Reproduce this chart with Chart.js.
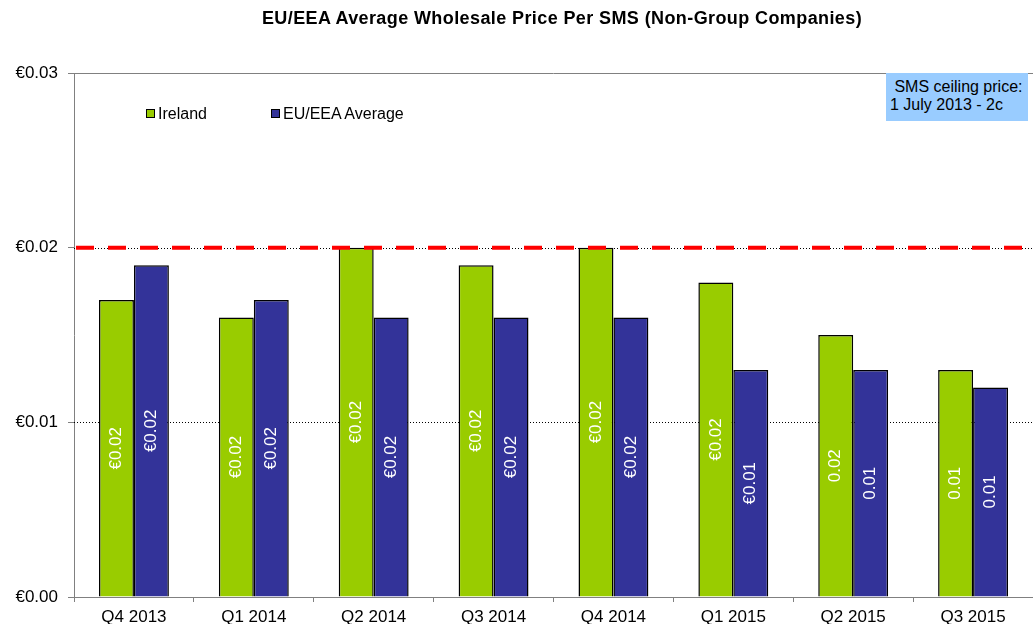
<!DOCTYPE html>
<html>
<head>
<meta charset="utf-8">
<script src="https://cdn.jsdelivr.net/npm/chart.js@4.4.1/dist/chart.umd.min.js"></script>
<style>
  body { margin: 0; background: #fff; font-family: "Liberation Sans", Arial, sans-serif; }
  #wrap { position: relative; width: 1033px; height: 624px; }
  #title { position: absolute; left: 0; top: 8px; width: 1124px; text-align: center;
           font-weight: bold; font-size: 18px; letter-spacing: 0.4px; color: #000; }
  .legend { position: absolute; top: 105px; font-size: 16px; color: #000; }
  .legend span.box { display: inline-block; width: 7px; height: 7px; border: 1px solid #000;
                     margin-right: 3px; vertical-align: 1px; }
  #note { position: absolute; left: 886px; top: 73px; width: 142px; height: 48px;
          background: #99ccff; font-size: 16px; line-height: 18px; color: #000;
          box-sizing: border-box; padding: 5px 0 0 4px; white-space: nowrap; }
</style>
</head>
<body>
<div id="wrap">
  <canvas id="smsChart" width="1033" height="624"></canvas>
  <div id="title">EU/EEA Average Wholesale Price Per SMS (Non-Group Companies)</div>
  <div class="legend" style="left:146px"><span class="box" style="background:#99cc00"></span>Ireland</div>
  <div class="legend" style="left:271px"><span class="box" style="background:#333399"></span>EU/EEA Average</div>
  <div id="note">&nbsp;SMS ceiling price:<br>1 July 2013 - 2c</div>
</div>
<script>
// Quarters and wholesale price per SMS (EUR)
const quarters = ['Q4 2013', 'Q1 2014', 'Q2 2014', 'Q3 2014', 'Q4 2014', 'Q1 2015', 'Q2 2015', 'Q3 2015'];
const irelandPrice = [0.017, 0.016, 0.020, 0.019, 0.020, 0.018, 0.015, 0.013];
const euAveragePrice = [0.019, 0.017, 0.016, 0.016, 0.016, 0.013, 0.013, 0.012];
// Labels as printed inside the bars
const irelandLabels = ['€0.02', '€0.02', '€0.02', '€0.02', '€0.02', '€0.02', '0.02', '0.01'];
const euAverageLabels = ['€0.02', '€0.02', '€0.02', '€0.02', '€0.02', '€0.01', '0.01', '0.01'];
const ceilingPrice = 0.02;
const yTicks = [0, 0.01, 0.02, 0.03];

const FONT = '"Liberation Sans", Arial, sans-serif';

// Horizontal grid lines, ceiling line and in-bar labels
const gridPlugin = {
    id: 'gridLines',
    beforeDatasetsDraw(chart) {
        const ctx = chart.ctx;
        const area = chart.chartArea;
        const y = chart.scales.y;
        ctx.save();
        yTicks.forEach(v => {
            if (v === 0) return;
            const py = Math.round(y.getPixelForValue(v)) + 0.5;
            ctx.beginPath();
            if (v === 0.03) {
                ctx.strokeStyle = '#808080';
                ctx.setLineDash([]);
            } else {
                ctx.strokeStyle = '#000000';
                ctx.setLineDash([1, 2]);
            }
            ctx.lineWidth = 1;
            ctx.moveTo(area.left, py);
            ctx.lineTo(area.right, py);
            ctx.stroke();
        });
        ctx.restore();
    },
    afterDatasetsDraw(chart) {
        const ctx = chart.ctx;
        const area = chart.chartArea;
        const py = chart.scales.y.getPixelForValue(ceilingPrice);
        ctx.save();
        ctx.strokeStyle = '#ff0000';
        ctx.lineWidth = 4;
        ctx.setLineDash([18, 14]);
        ctx.beginPath();
        ctx.moveTo(area.left + 2, py);
        ctx.lineTo(area.right, py);
        ctx.stroke();

        // value labels inside bars, rotated
        ctx.setLineDash([]);
        ctx.fillStyle = '#ffffff';
        ctx.font = '17px ' + FONT;
        ctx.textAlign = 'center';
        ctx.textBaseline = 'middle';
        const allLabels = [irelandLabels, euAverageLabels];
        chart.data.datasets.forEach((ds, di) => {
            chart.getDatasetMeta(di).data.forEach((bar, i) => {
                const cy = (bar.y + bar.base) / 2;
                ctx.save();
                ctx.translate(bar.x, cy);
                ctx.rotate(-Math.PI / 2);
                ctx.fillText(allLabels[di][i], 0, 0);
                ctx.restore();
            });
        });
        ctx.restore();
    }
};

const smsChart = new Chart(document.getElementById('smsChart'), {
    type: 'bar',
    data: {
        labels: quarters,
        datasets: [
            {
                label: 'Ireland',
                data: irelandPrice,
                backgroundColor: '#99cc00',
                borderColor: '#000000',
                borderWidth: 1.5
            },
            {
                label: 'EU/EEA Average',
                data: euAveragePrice,
                backgroundColor: '#333399',
                borderColor: '#000000',
                borderWidth: 1.5
            }
        ]
    },
    options: {
        responsive: false,
        animation: false,
        events: [],
        layout: { padding: { top: 73, right: 0, left: 0, bottom: 0 } },
        datasets: {
            bar: { categoryPercentage: 0.583, barPercentage: 1.0 }
        },
        plugins: {
            legend: { display: false },
            title: { display: false },
            tooltip: { enabled: false }
        },
        scales: {
            x: {
                grid: {
                    offset: true,
                    drawOnChartArea: false,
                    drawTicks: true,
                    tickLength: 5,
                    tickColor: '#808080'
                },
                border: { color: '#808080', width: 1 },
                ticks: { color: '#000', font: { family: FONT, size: 17 }, padding: 5, maxRotation: 0 },
                afterFit(scale) { scale.height = 27; }
            },
            y: {
                min: 0,
                max: 0.03,
                grid: {
                    drawOnChartArea: false,
                    drawTicks: true,
                    tickLength: 6,
                    tickColor: '#808080'
                },
                border: { color: '#808080', width: 1 },
                ticks: {
                    stepSize: 0.01,
                    color: '#000',
                    padding: 10,
                    font: { family: FONT, size: 17 },
                    callback: v => '€' + v.toFixed(2)
                },
                afterFit(scale) { scale.width = 74; }
            }
        }
    },
    plugins: [gridPlugin]
});
</script>
</body>
</html>
